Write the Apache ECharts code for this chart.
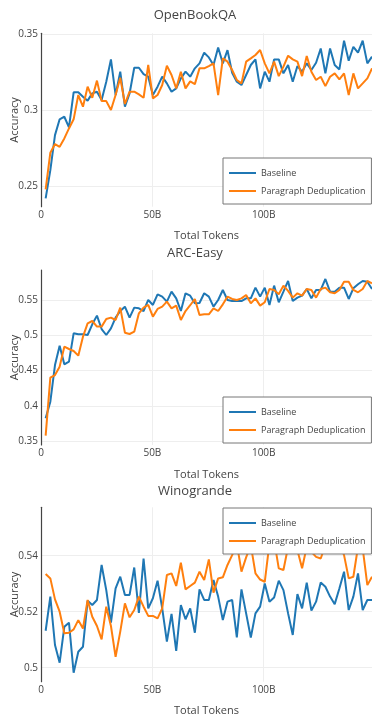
<!DOCTYPE html>
<html>
<head>
<meta charset="utf-8">
<script src="https://cdn.jsdelivr.net/npm/echarts@6/dist/echarts.min.js"></script>
<style>
  html, body { margin: 0; padding: 0; background: #fff; }
  #main { width: 372px; height: 720px; }
</style>
</head>
<body>
<div id="main"></div>
<script>
// checkpoints, billions of tokens
let tokens = [2.09, 4.19, 6.28, 8.37, 10.47, 12.56, 14.65, 16.74, 18.84, 20.93,
  23.02, 25.12, 27.21, 29.30, 31.40, 33.49, 35.58, 37.67, 39.77, 41.86,
  43.95, 46.05, 48.14, 50.23, 52.33, 54.42, 56.51, 58.60, 60.70, 62.79,
  64.88, 66.98, 69.07, 71.16, 73.26, 75.35, 77.44, 79.53, 81.63, 83.72,
  85.81, 87.91, 90.00, 92.09, 94.19, 96.28, 98.37, 100.46, 102.56, 104.65,
  106.74, 108.84, 110.93, 113.02, 115.12, 117.21, 119.30, 121.39, 123.49, 125.58,
  127.67, 129.77, 131.86, 133.95, 136.05, 138.14, 140.23, 142.32, 144.42, 146.51, 148.60];

let obqaBase = [0.2419, 0.2605, 0.2836, 0.294, 0.2957, 0.2887, 0.3118, 0.3118, 0.3089, 0.3063,
  0.3111, 0.3122, 0.3067, 0.3188, 0.3335, 0.31, 0.3254, 0.3023, 0.311, 0.328,
  0.328, 0.3238, 0.3221, 0.31, 0.3155, 0.3221, 0.3177, 0.3122, 0.3144, 0.321,
  0.3254, 0.3221, 0.3276, 0.3309, 0.3379, 0.3348, 0.3298, 0.3414, 0.3309, 0.3396,
  0.3247, 0.3188, 0.3166, 0.3232, 0.3298, 0.3335, 0.3144, 0.3254, 0.3188, 0.3335,
  0.3335, 0.3243, 0.3298, 0.3188, 0.3291, 0.3254, 0.3309, 0.3265, 0.3313, 0.3407,
  0.3243, 0.3407, 0.3298, 0.3269, 0.3458, 0.3326, 0.3418, 0.3379, 0.3458, 0.3309, 0.3353];
let obqaDedup = [0.2478, 0.272, 0.2777, 0.2759, 0.2814, 0.288, 0.294, 0.31, 0.3023, 0.3155,
  0.3082, 0.3195, 0.306, 0.306, 0.3001, 0.31, 0.3214, 0.3041, 0.3122, 0.3122,
  0.3104, 0.3082, 0.3298, 0.3078, 0.31, 0.3166, 0.3293, 0.3232, 0.3144, 0.3254,
  0.3144, 0.319, 0.3172, 0.3276, 0.3276, 0.3291, 0.3309, 0.31, 0.3342, 0.332,
  0.3265, 0.3199, 0.3177, 0.332, 0.3342, 0.3364, 0.3397, 0.3309, 0.3243, 0.332,
  0.3225, 0.3287, 0.3359, 0.3335, 0.332, 0.3225, 0.3357, 0.3254, 0.3199, 0.3221,
  0.3159, 0.3221, 0.3243, 0.3203, 0.3243, 0.31, 0.3243, 0.3144, 0.3177, 0.321, 0.3276];

let arcBase = [0.3822, 0.4059, 0.458, 0.4855, 0.459, 0.4628, 0.5031, 0.5017, 0.5017, 0.5007,
  0.5159, 0.5282, 0.5092, 0.5007, 0.5102, 0.5254, 0.5348, 0.541, 0.5254, 0.5396,
  0.5386, 0.5348, 0.5505, 0.5434, 0.5585, 0.5552, 0.5481, 0.5623, 0.5528, 0.5348,
  0.56, 0.5566, 0.5457, 0.5462, 0.56, 0.5552, 0.541, 0.5505, 0.5647, 0.5505,
  0.549, 0.549, 0.549, 0.5528, 0.5528, 0.568, 0.5552, 0.568, 0.5434, 0.5709,
  0.5472, 0.5623, 0.5775, 0.549, 0.5538, 0.5566, 0.5661, 0.5528, 0.5647, 0.5647,
  0.5803, 0.5623, 0.5623, 0.568, 0.568, 0.5519, 0.5671, 0.5728, 0.5775, 0.5765, 0.5661];
let arcDedup = [0.3576, 0.44, 0.4438, 0.4557, 0.4841, 0.4808, 0.478, 0.4713, 0.4983, 0.5173,
  0.5206, 0.5126, 0.5126, 0.5235, 0.5254, 0.522, 0.5396, 0.504, 0.5021, 0.5054,
  0.5315, 0.5396, 0.5434, 0.5268, 0.5377, 0.541, 0.5481, 0.5386, 0.5424, 0.522,
  0.5348, 0.543, 0.5519, 0.5291, 0.5301, 0.5301, 0.5386, 0.5348, 0.5443, 0.5552,
  0.5519, 0.5505, 0.5528, 0.5576, 0.5457, 0.5528, 0.5424, 0.5472, 0.5661, 0.5647,
  0.5585, 0.5709, 0.5633, 0.5538, 0.56, 0.5566, 0.5661, 0.5647, 0.5538, 0.5661,
  0.568, 0.5614, 0.56, 0.5647, 0.5765, 0.5765, 0.5647, 0.5614, 0.5661, 0.5775, 0.5742];

let winoBase = [0.5132, 0.5254, 0.5081, 0.5018, 0.5146, 0.5161, 0.4982, 0.5057, 0.5075, 0.5239,
  0.5224, 0.5242, 0.5367, 0.5277, 0.5161, 0.5283, 0.5325, 0.526, 0.526, 0.5358,
  0.5196, 0.539, 0.5212, 0.5248, 0.5311, 0.5212, 0.5093, 0.5192, 0.506, 0.5224,
  0.5173, 0.5212, 0.5125, 0.528, 0.5242, 0.5242, 0.5313, 0.5254, 0.517, 0.5236,
  0.5242, 0.5108, 0.528, 0.5194, 0.5108, 0.5194, 0.5218, 0.5301, 0.5236, 0.5251,
  0.5311, 0.5277, 0.5194, 0.5117, 0.5263, 0.5212, 0.5304, 0.5204, 0.5236, 0.5304,
  0.5289, 0.5254, 0.5227, 0.5283, 0.5343, 0.5206, 0.5254, 0.5337, 0.5206, 0.5242, 0.5242];
let winoDedup = [0.5335, 0.5319, 0.5244, 0.52, 0.5123, 0.5125, 0.5137, 0.517, 0.514, 0.5242,
  0.5182, 0.5149, 0.5101, 0.5218, 0.5149, 0.5039, 0.5129, 0.523, 0.518, 0.5206,
  0.5254, 0.5218, 0.5185, 0.5185, 0.5176, 0.5212, 0.5331, 0.5337, 0.5292, 0.5375,
  0.528, 0.5292, 0.5304, 0.5343, 0.5313, 0.5387, 0.5268, 0.5319, 0.5323, 0.5367,
  0.5402, 0.5444, 0.5343, 0.5394, 0.5438, 0.5337, 0.5315, 0.5307, 0.5444, 0.5456,
  0.5355, 0.5349, 0.5432, 0.545, 0.542, 0.5355, 0.5432, 0.5414, 0.5396, 0.539,
  0.5438, 0.545, 0.5432, 0.5444, 0.5402, 0.5319, 0.5325, 0.5432, 0.5426, 0.5295, 0.5325];

let xTicks = [0, 50, 100];
let panelTitles = ['OpenBookQA', 'ARC-Easy', 'Winogrande'];
let yTicks = [[0.25, 0.3, 0.35], [0.35, 0.4, 0.45, 0.5, 0.55], [0.5, 0.52, 0.54]];
let yRange = [[0.2364, 0.3507], [0.3443, 0.5931], [0.495, 0.5573]];
let seriesNames = ['Baseline', 'Paragraph Deduplication'];

let font = '"Open Sans", verdana, arial, sans-serif';
let blue = '#1f77b4';
let orange = '#ff7f0e';

// pixel layout of the three panels
let panelTop = [33.3, 270, 507.3];
let panelHeight = [173.4, 175, 174.4];
let titleTop = [8.5, 246.5, 484.5];
let legendTop = [158, 397, 508];

function pairs(vals) {
  return vals.map((v, i) => [tokens[i], v]);
}

let dataSets = [[obqaBase, obqaDedup], [arcBase, arcDedup], [winoBase, winoDedup]];

let grids = [], xAxes = [], yAxes = [], titles = [], legends = [], series = [];

for (let k = 0; k < 3; k++) {
  grids.push({
    left: 41, top: panelTop[k], width: 331, height: panelHeight[k],
    containLabel: false, outerBoundsMode: 'none'
  });

  titles.push({
    text: panelTitles[k],
    left: 195, top: titleTop[k], textAlign: 'center', padding: 0,
    textStyle: { fontFamily: font, fontSize: 13, fontWeight: 'normal', color: '#444' }
  });

  xAxes.push({
    gridIndex: k, type: 'value', min: 0, max: tokens[tokens.length - 1],
    name: 'Total Tokens', nameLocation: 'middle', nameGap: 24, nameMoveOverlap: false,
    nameTextStyle: { fontFamily: font, fontSize: 11, color: '#444' },
    axisLine: { show: false },
    axisTick: { show: false, customValues: xTicks },
    axisLabel: {
      customValues: xTicks, margin: 3,
      fontFamily: font, fontSize: 10, color: '#444',
      formatter: v => v === 0 ? '0' : v + 'B'
    },
    splitLine: { show: true, lineStyle: { color: '#eee', width: 1 } }
  });

  yAxes.push({
    gridIndex: k, type: 'value', min: yRange[k][0], max: yRange[k][1],
    name: 'Accuracy', nameLocation: 'middle', nameGap: 21, nameMoveOverlap: false,
    nameTextStyle: { fontFamily: font, fontSize: 11, color: '#444' },
    axisLine: { show: true, lineStyle: { color: '#444', width: 1.2 } },
    axisTick: { show: false, customValues: yTicks[k] },
    axisLabel: {
      customValues: yTicks[k], margin: 3,
      fontFamily: font, fontSize: 10, color: '#444',
      formatter: v => String(+v.toFixed(3))
    },
    splitLine: { show: true, lineStyle: { color: '#eee', width: 1 } }
  });

  legends.push({
    left: 223, top: legendTop[k], orient: 'vertical', z: 20,
    backgroundColor: '#fff', borderColor: '#777', borderWidth: 1, borderRadius: 0,
    padding: [10, 6, 8, 6], itemGap: 8,
    icon: 'rect', itemWidth: 27, itemHeight: 2,
    textStyle: { fontFamily: font, fontSize: 9, color: '#444', lineHeight: 10 },
    data: seriesNames
  });

  dataSets[k].forEach((vals, j) => {
    series.push({
      name: seriesNames[j], type: 'line',
      xAxisIndex: k, yAxisIndex: k,
      data: pairs(vals),
      showSymbol: false, symbol: 'none',
      lineStyle: { width: 2, color: j === 0 ? blue : orange },
      itemStyle: { color: j === 0 ? blue : orange },
      animation: false
    });
  });
}

let chart = echarts.init(document.getElementById('main'), null, { renderer: 'canvas' });
chart.setOption({
  animation: false,
  color: [blue, orange],
  title: titles,
  grid: grids,
  xAxis: xAxes,
  yAxis: yAxes,
  legend: legends,
  tooltip: { trigger: 'axis' },
  series: series
});
</script>
</body>
</html>
